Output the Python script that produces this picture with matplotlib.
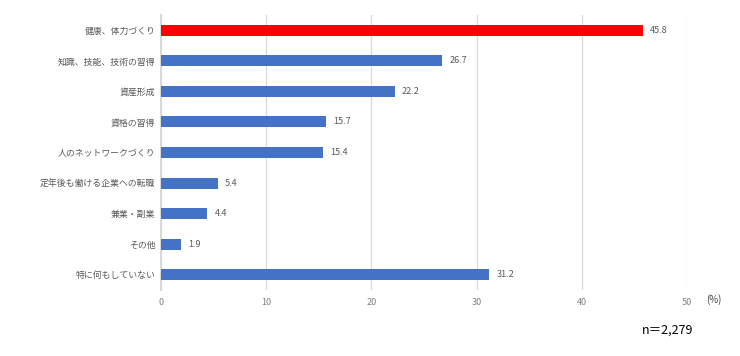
import matplotlib.pyplot as plt

plt.rcParams['font.family'] = ['Noto Sans CJK JP', 'DejaVu Sans']

categories = ['健康、体力づくり', '知識、技能、技術の習得', '資産形成', '資格の習得',
              '人のネットワークづくり', '定年後も働ける企業への転職', '兼業・副業',
              'その他', '特に何もしていない']
values = [45.8, 26.7, 22.2, 15.7, 15.4, 5.4, 4.4, 1.9, 31.2]
colors = ['#FF0000'] + ['#4472C4'] * 8
xticks = [0, 10, 20, 30, 40, 50]

fig = plt.figure(figsize=(7.4, 3.56), dpi=100)
ax = fig.add_axes([0.2176, 0.185, 0.7108, 0.773])

y = list(range(len(categories)))
ax.barh(y, values, height=0.36, color=colors, zorder=3)
for yi, v in zip(y, values):
    ax.text(v + 0.7, yi, f'{v}', va='center', ha='left', fontsize=6.5, color='#595959')

ax.set_xlim(0, 50)
ax.set_ylim(8.5, -0.5)
ax.set_yticks(y)
ax.set_yticklabels(categories, fontsize=6.4, color='#595959')
ax.set_xticks(xticks)
ax.set_xticklabels([str(t) for t in xticks], fontsize=6.5, color='#7f7f7f')
ax.tick_params(length=0)
ax.tick_params(axis='x', pad=6)
ax.tick_params(axis='y', pad=4)
ax.grid(axis='x', color='#d9d9d9', linewidth=0.9, zorder=0)
for s in ['top', 'right', 'bottom']:
    ax.spines[s].set_visible(False)
ax.spines['left'].set_color('#d9d9d9')
ax.spines['left'].set_linewidth(1.5)

fig.text(714 / 740, 1 - 300 / 356, '(%)', fontsize=7, color='#404040', ha='center', va='center')
fig.text(668 / 740, 1 - 330 / 356, 'n＝2,279', fontsize=9, color='#000000', ha='center', va='center')

fig.savefig('out.png', dpi=100)
